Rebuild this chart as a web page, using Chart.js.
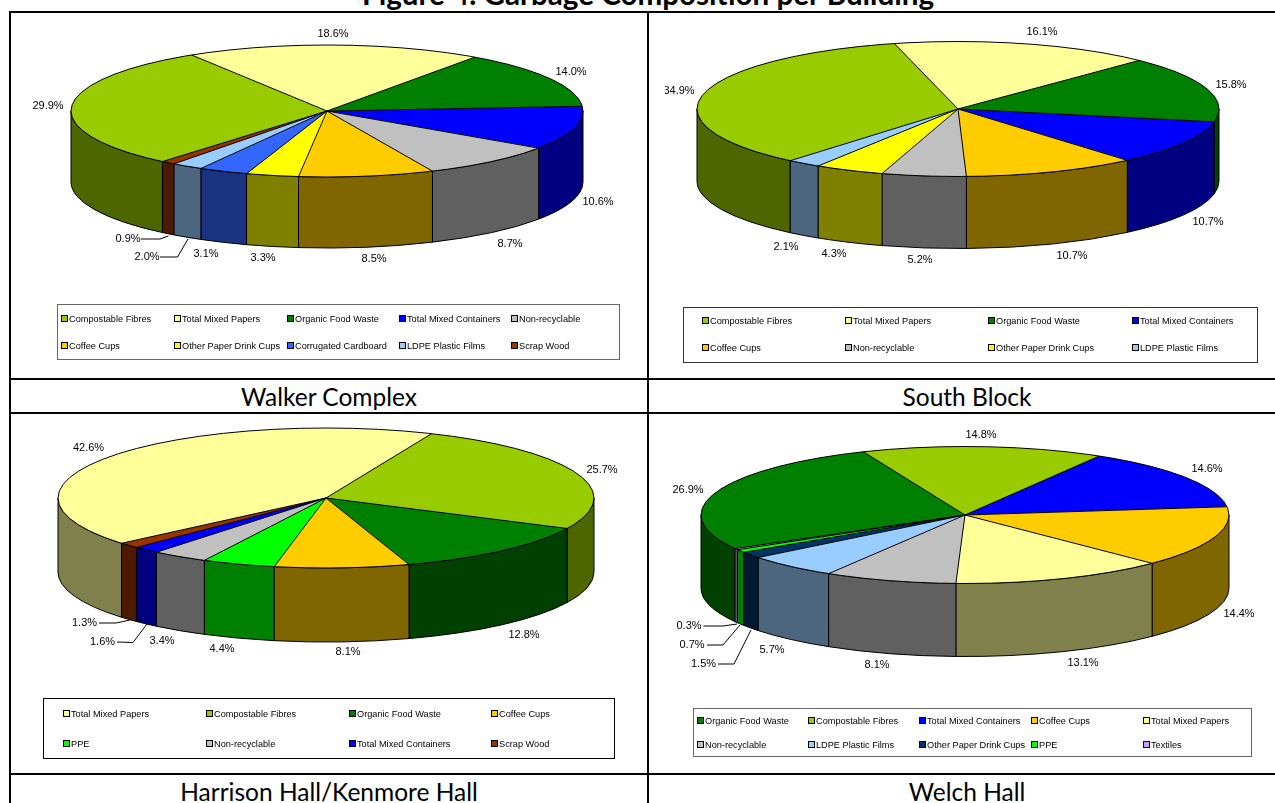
<!DOCTYPE html>
<html><head><meta charset="utf-8">
<script src="https://cdn.jsdelivr.net/npm/chart.js@4/dist/chart.umd.js"></script>
<style>
html,body{margin:0;padding:0;background:#fff;overflow:hidden;width:1275px;height:803px}
.rule{position:absolute;background:#000}
canvas{position:absolute}
.cap{position:absolute;font-family:Lato,Carlito,sans-serif;color:#000;text-align:center;white-space:nowrap;transform:translateX(-50%);line-height:1}
</style></head><body>
<div class="cap" id="title" style="left:648px;top:-21px;font-weight:700;font-size:29.6px">Figure 4. Garbage Composition per Building</div>
<div class="rule" style="left:9px;top:11px;width:1266px;height:2px"></div>
<div class="rule" style="left:9px;top:378px;width:1266px;height:2px"></div>
<div class="rule" style="left:9px;top:412px;width:1266px;height:2px"></div>
<div class="rule" style="left:9px;top:773px;width:1266px;height:2px"></div>
<div class="rule" style="left:9px;top:11px;width:2px;height:792px"></div>
<div class="rule" style="left:647px;top:11px;width:2px;height:792px"></div>
<div class="cap" style="left:329px;top:385px;font-size:24.5px">Walker Complex</div>
<div class="cap" style="left:967px;top:385px;font-size:24.5px">South Block</div>
<div class="cap" style="left:329px;top:780px;font-size:24.5px">Harrison Hall/Kenmore Hall</div>
<div class="cap" style="left:967px;top:780px;font-size:24.5px">Welch Hall</div>
<canvas id="c1" style="left:11px;top:14px" width="636" height="364"></canvas>
<canvas id="c2" style="left:665px;top:14px" width="610" height="364"></canvas>
<canvas id="c3" style="left:11px;top:414px" width="636" height="359"></canvas>
<canvas id="c4" style="left:649px;top:414px" width="626" height="359"></canvas>
<script>
// ---- data ----
const walkerCategories = ['Compostable Fibres','Total Mixed Papers','Organic Food Waste','Total Mixed Containers','Non-recyclable','Coffee Cups','Other Paper Drink Cups','Corrugated Cardboard','LDPE Plastic Films','Scrap Wood'];
const walkerValues = [29.9,18.6,14.0,10.6,8.7,8.5,3.3,3.1,2.0,0.9];
const southCategories = ['Compostable Fibres','Total Mixed Papers','Organic Food Waste','Total Mixed Containers','Coffee Cups','Non-recyclable','Other Paper Drink Cups','LDPE Plastic Films'];
const southValues = [34.9,16.1,15.8,10.7,10.7,5.2,4.3,2.1];
const harrisonCategories = ['Total Mixed Papers','Compostable Fibres','Organic Food Waste','Coffee Cups','PPE','Non-recyclable','Total Mixed Containers','Scrap Wood'];
const harrisonValues = [42.6,25.7,12.8,8.1,4.4,3.4,1.6,1.3];
const welchCategories = ['Organic Food Waste','Compostable Fibres','Total Mixed Containers','Coffee Cups','Total Mixed Papers','Non-recyclable','LDPE Plastic Films','Other Paper Drink Cups','PPE','Textiles'];
const welchValues = [26.9,14.8,14.6,14.4,13.1,8.1,5.7,1.5,0.7,0.3];

// ---- styles ----
const topColors = {'Compostable Fibres':'#99CC00','Total Mixed Papers':'#FFFF99','Organic Food Waste':'#008000','Total Mixed Containers':'#0000FF','Non-recyclable':'#C0C0C0','Coffee Cups':'#FFCC00','Other Paper Drink Cups':'#FFFF00','Corrugated Cardboard':'#3366FF','LDPE Plastic Films':'#99CCFF','Scrap Wood':'#993300','PPE':'#00FF00','Textiles':'#CC99FF'};
const sideColors = {'Compostable Fibres':'#4D6600','Total Mixed Papers':'#80804D','Organic Food Waste':'#004000','Total Mixed Containers':'#000080','Non-recyclable':'#606060','Coffee Cups':'#806600','Other Paper Drink Cups':'#808000','Corrugated Cardboard':'#1A3380','LDPE Plastic Films':'#4D6680','Scrap Wood':'#4D1A00','PPE':'#008000','Textiles':'#664D80'};
const welchTopOverride = {'Other Paper Drink Cups':'#003366'};
const welchSideOverride = {'Other Paper Drink Cups':'#001A33'};

// ---- layout (page pixels) ----
const panels = [
 {id:'c1',x0:11,y0:14,cats:walkerCategories,vals:walkerValues,rotation:-140,cx:327,cy:111,rx:256,ry:66,depth:71,
  labels:[[48,106],[333,34],[571,72],[598,202],[510,244],[374,259],[263,258],[206,254],[147,257],[128,239]],
  leaders:[[[160,257],[177.5,257],[188,239]],[[141,239],[160,239],[168.5,236]]],
  box:[57,304,619,359],boxColor:'#666',cols:[61,174,287,399,511],rows:[319,346],legendCols:5},
 {id:'c2',x0:665,y0:14,cats:southCategories,vals:southValues,rotation:-140,cx:958,cy:109,rx:261,ry:67.5,depth:72,
  labels:[[679,91],[1042,32],[1231,85],[1208,222],[1072,256],[920,260],[834,254],[786,247]],
  leaders:[],box:[682.5,307,1256,362],boxColor:'#333',cols:[701.5,845,988,1131.5],rows:[321,348],legendCols:4},
 {id:'c3',x0:11,y0:414,cats:harrisonCategories,vals:harrisonValues,rotation:-130.3,cx:326,cy:498,rx:268,ry:70,depth:74,
  labels:[[88.5,448],[602,470],[524,635],[348,652],[222,649],[162,641],[102.5,642],[84.5,623]],
  leaders:[[[117,642],[133,642.5],[147,624]],[[99,623],[116,623],[130,620]]],
  box:[43,698,614,758],boxColor:'#000',cols:[63,206,349,491],rows:[714,744],legendCols:4},
 {id:'c4',x0:649,y0:414,cats:welchCategories,vals:welchValues,rotation:-119.4,cx:965,cy:515,rx:264,ry:68.5,depth:73,
  topOver:welchTopOverride,sideOver:welchSideOverride,
  labels:[[688,490],[981,435],[1207,469],[1239,614],[1083,663],[877,665],[772,650],[703.5,664],[692,645],[689,626]],
  leaders:[[[718,664],[734,664],[751,630]],[[707,645],[723,645],[740,625]],[[703.5,626],[723,626],[737,624]]],
  box:[693,708,1250.5,756],boxColor:'#666',cols:[697,808,919,1031,1143],rows:[721,745],legendCols:5}
];

const pie3d = {
 id:'pie3d',
 beforeDatasetDraw(chart,args,opts){
  const ctx=chart.ctx, arcs=chart.getDatasetMeta(0).data, p=opts.panel;
  const x=arcs[0].x,y=arcs[0].y,r=arcs[0].outerRadius,ry=p.ry,d=p.depth;
  ctx.save();
  ctx.lineWidth=1;ctx.strokeStyle='#000';ctx.lineJoin='round';
  arcs.forEach((a,i)=>{
    for(let k=-2;k<=2;k++){
      const lo=2*Math.PI*k, hi=lo+Math.PI;
      const a0=Math.max(a.startAngle,lo), a1=Math.min(a.endAngle,hi);
      if(a1<=a0) continue;
      ctx.beginPath();
      ctx.ellipse(x,y,r,ry,0,a0,a1);
      ctx.ellipse(x,y+d,r,ry,0,a1,a0,true);
      ctx.closePath();
      ctx.fillStyle=opts.sides[i];ctx.fill();ctx.stroke();
    }
  });
  ctx.restore();
  ctx.save();
  ctx.translate(x,y);ctx.scale(1,ry/r);ctx.translate(-x,-y);
 },
 afterDatasetDraw(chart,args,opts){
  const ctx=chart.ctx, arcs=chart.getDatasetMeta(0).data, p=opts.panel;
  ctx.restore();
  const x=arcs[0].x,y=arcs[0].y,r=arcs[0].outerRadius,ry=p.ry;
  ctx.save();
  ctx.lineWidth=1;ctx.strokeStyle='#000';
  ctx.beginPath();ctx.ellipse(x,y,r,ry,0,0,2*Math.PI);ctx.stroke();
  arcs.forEach(a=>{
    ctx.beginPath();ctx.moveTo(x,y);
    ctx.lineTo(x+r*Math.cos(a.startAngle),y+ry*Math.sin(a.startAngle));ctx.stroke();
  });
  // value labels
  ctx.fillStyle='#000';ctx.font='11px "Liberation Sans"';ctx.textAlign='center';ctx.textBaseline='middle';
  chart.data.datasets[0].data.forEach((v,i)=>{
    const q=p.labels[i];
    ctx.fillText(v.toFixed(1)+'%',q[0]-p.x0,q[1]-p.y0);
  });
  // leader lines
  ctx.strokeStyle='#000';ctx.lineWidth=1;
  p.leaders.forEach(l=>{
    ctx.beginPath();
    l.forEach((pt,i)=>{const X=pt[0]-p.x0,Y=pt[1]-p.y0;i?ctx.lineTo(X,Y):ctx.moveTo(X,Y);});
    ctx.stroke();
  });
  // legend box
  const b=p.box;
  ctx.strokeStyle=p.boxColor;ctx.lineWidth=1;
  ctx.strokeRect(Math.round(b[0]-p.x0)+.5,Math.round(b[1]-p.y0)+.5,Math.round(b[2]-b[0]),Math.round(b[3]-b[1]));
  ctx.font='9.2px "Liberation Sans"';ctx.textAlign='left';
  chart.data.labels.forEach((t,i)=>{
    const c=i%p.legendCols, rw=Math.floor(i/p.legendCols);
    const X=Math.round(p.cols[c]-p.x0), Y=Math.round(p.rows[rw]-p.y0);
    ctx.fillStyle=chart.data.datasets[0].backgroundColor[i];
    ctx.fillRect(X+.5,Y-3.5,6,6);
    ctx.strokeStyle='#000';ctx.strokeRect(X+.5,Y-3.5,6,6);
    ctx.fillStyle='#000';
    ctx.fillText(t,X+8,Y);
  });
  ctx.restore();
 }
};

panels.forEach(p=>{
  const el=document.getElementById(p.id);
  const w=el.width,h=el.height,c={x:p.cx-p.x0,y:p.cy-p.y0};
  new Chart(el,{
    type:'pie',
    data:{labels:p.cats,datasets:[{
      data:p.vals,
      backgroundColor:p.cats.map(n=>(p.topOver&&p.topOver[n])||topColors[n]),
      borderWidth:0,
      clip:false
    }]},
    options:{
      responsive:false,animation:false,devicePixelRatio:1,
      rotation:p.rotation,radius:p.rx,
      layout:{padding:{left:Math.max(0,2*c.x-w),right:Math.max(0,w-2*c.x),top:Math.max(0,2*c.y-h),bottom:Math.max(0,h-2*c.y)}},
      plugins:{legend:{display:false},tooltip:{enabled:false},
        pie3d:{panel:p,sides:p.cats.map(n=>(p.sideOver&&p.sideOver[n])||sideColors[n])}}
    },
    plugins:[pie3d]
  });
});
</script>
</body></html>
